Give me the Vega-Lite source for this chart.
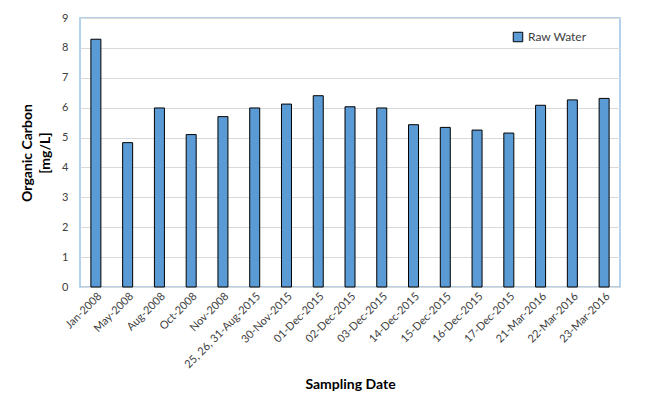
{
  "$schema": "https://vega.github.io/schema/vega-lite/v6.json",
  "width": 540,
  "height": 269,
  "autosize": "none",
  "padding": {"left": 80, "top": 18, "right": 39, "bottom": 113},
  "background": "white",
  "data": {"values": [
    {"date": "Jan-2008", "value": 8.29, "series": "Raw Water"},
    {"date": "May-2008", "value": 4.83, "series": "Raw Water"},
    {"date": "Aug-2008", "value": 5.99, "series": "Raw Water"},
    {"date": "Oct-2008", "value": 5.10, "series": "Raw Water"},
    {"date": "Nov-2008", "value": 5.70, "series": "Raw Water"},
    {"date": "25, 26, 31-Aug-2015", "value": 5.99, "series": "Raw Water"},
    {"date": "30-Nov-2015", "value": 6.12, "series": "Raw Water"},
    {"date": "01-Dec-2015", "value": 6.40, "series": "Raw Water"},
    {"date": "02-Dec-2015", "value": 6.03, "series": "Raw Water"},
    {"date": "03-Dec-2015", "value": 5.99, "series": "Raw Water"},
    {"date": "14-Dec-2015", "value": 5.43, "series": "Raw Water"},
    {"date": "15-Dec-2015", "value": 5.34, "series": "Raw Water"},
    {"date": "16-Dec-2015", "value": 5.25, "series": "Raw Water"},
    {"date": "17-Dec-2015", "value": 5.15, "series": "Raw Water"},
    {"date": "21-Mar-2016", "value": 6.08, "series": "Raw Water"},
    {"date": "22-Mar-2016", "value": 6.26, "series": "Raw Water"},
    {"date": "23-Mar-2016", "value": 6.31, "series": "Raw Water"}
  ]},
  "mark": {"type": "bar", "size": 10, "stroke": "#000000", "strokeWidth": 1},
  "encoding": {
    "x": {
      "field": "date", "type": "nominal", "sort": null,
      "title": "Sampling Date",
      "axis": {
        "labelAngle": -45, "labelFont": "Lato", "labelFontSize": 11, "labelColor": "#404040",
        "ticks": false, "domain": false, "labelPadding": 3,
        "titleFont": "Lato", "titleFontSize": 14, "titleFontWeight": "bold", "titleColor": "#000000",
        "titleY": 90
      }
    },
    "y": {
      "field": "value", "type": "quantitative",
      "scale": {"domain": [0, 9]},
      "title": ["Organic Carbon", "[mg/L]"],
      "axis": {
        "values": [0, 1, 2, 3, 4, 5, 6, 7, 8, 9],
        "labelFont": "Lato", "labelFontSize": 11, "labelColor": "#404040",
        "ticks": false, "domain": false, "labelPadding": 12,
        "grid": true, "gridColor": "#d9d9d9", "gridWidth": 1,
        "titleFont": "Lato", "titleFontSize": 14, "titleFontWeight": "bold", "titleColor": "#000000",
        "titlePadding": 9, "titleLineHeight": 18
      }
    },
    "fill": {
      "field": "series", "type": "nominal",
      "scale": {"range": ["#5b9bd5"]},
      "legend": {
        "title": null, "orient": "none", "legendX": 432, "legendY": 13,
        "symbolType": "square", "symbolSize": 90, "symbolStrokeColor": "#000000", "symbolStrokeWidth": 1,
        "labelFont": "Lato", "labelFontSize": 12, "labelColor": "#404040"
      }
    }
  },
  "config": {
    "view": {"stroke": "#9dc3e6", "strokeWidth": 1.5}
  }
}
